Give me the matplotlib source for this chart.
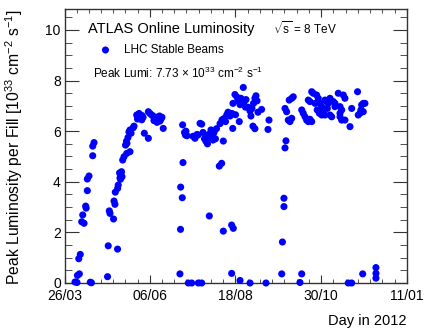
import matplotlib
matplotlib.use("Agg")
import matplotlib.pyplot as plt
import matplotlib.dates as mdates
import numpy as np
from matplotlib.ticker import FixedLocator, MultipleLocator

plt.rcParams['font.family'] = ['Liberation Sans', 'DejaVu Sans']
plt.rcParams['mathtext.fontset'] = 'custom'
plt.rcParams['mathtext.rm'] = 'Liberation Sans'
plt.rcParams['mathtext.it'] = 'Liberation Sans:italic'

# day of year 2012 (1 = 1 Jan) and peak luminosity per fill [1e33 cm^-2 s^-1]
day = [94.5, 96.2, 96.6, 98.2, 97.7, 99.0, 100.2, 101.1, 102.2, 103.6, 104.0,
       105.0, 105.0, 106.4, 109.6, 109.6, 110.7, 107.5, 108.5,
       122.2, 122.8, 130.7, 123.7, 124.3, 127.3, 127.7, 128.5, 128.8, 130.8,
       131.3, 132.4, 132.8, 133.2, 133.6, 134.1, 134.5, 135.1, 136.2, 138.5,
       141.3, 137.5, 138.7, 138.3, 139.6, 140.4, 142.2, 141.3, 144.1, 144.7,
       147.0, 147.7, 148.1, 149.0, 149.8, 151.3, 151.5, 152.4, 153.5, 156.9,
       156.9, 158.3, 159.8, 160.9, 161.7, 162.6, 163.8, 164.3, 165.1, 166.4,
       166.8, 167.7, 168.5, 169.6,
       183.8, 184.3, 184.4, 185.8, 186.4, 186.1, 187.7, 188.5, 189.8, 188.9,
       190.9, 193.8, 199.4, 202.3,
       194.9, 196.6, 198.3, 199.2, 200.9, 202.3,
       203.4, 204.7, 206.0, 207.2, 208.5, 209.4, 210.2, 211.5, 212.8, 214.0,
       207.7, 211.9, 214.9,
       208.8, 217.3, 219.3, 220.7, 220.7, 227.8, 229.2, 227.8,
       217.9, 219.6, 221.3, 222.6, 223.6, 224.7, 226.4, 228.1, 231.1, 228.7,
       228.9, 230.6, 232.3, 233.2, 234.9, 235.7, 237.7, 238.3, 239.6, 240.0,
       234.3,
       241.7, 243.4, 244.2, 245.1, 246.4, 247.6, 248.5, 249.4, 250.2, 245.9,
       247.6, 253.3,
       234.9, 243.4, 257.0, 258.7, 259.6,
       270.4, 271.0, 272.3, 272.3, 273.2, 274.0,
       273.2, 274.6, 276.0, 277.4, 278.9, 276.8, 278.9, 280.2,
       285.9, 287.4,
       287.4, 288.7, 290.2, 291.6, 293.0, 294.4, 295.9, 293.0, 294.4, 295.9,
       297.2, 300.1, 301.5, 302.9, 304.4, 305.8, 307.2, 308.6, 310.0, 311.5,
       312.9, 314.3, 304.4, 307.2, 298.7, 300.6, 302.4, 309.2, 311.5, 315.7,
       318.5, 320.0, 322.8, 324.2, 321.4, 324.2, 320.0, 321.4, 320.0, 315.7,
       329.9, 328.5, 334.9, 335.5, 337.0, 338.4, 339.8, 341.2, 337.8, 339.8,
       327.0, 329.9, 339.3, 350.6, 350.6, 350.6]
lumi = [0.04, 0.02, 0.30, 0.36, 0.96, 1.13, 2.42, 2.69, 2.36, 3.04, 2.96,
        3.65, 4.11, 4.23, 5.03, 5.41, 5.55, 0.03, 0.01,
        0.25, 1.47, 1.34, 2.85, 2.75, 2.53, 3.24, 3.11, 3.59, 3.74,
        3.87, 4.35, 4.15, 4.10, 4.30, 4.40, 4.20, 4.86, 4.99, 5.12,
        5.19, 5.45, 5.52, 5.60, 5.75, 5.97, 5.92, 6.05, 6.14, 6.20,
        6.64, 6.48, 6.58, 6.70, 6.50, 6.45, 6.62, 6.55, 5.92, 5.72,
        6.77, 6.70, 6.64, 6.60, 6.42, 6.50, 6.55, 6.35, 6.44, 6.60,
        6.40, 6.48, 6.55, 6.11,
        0.36, 2.12, 3.79, 3.37, 4.76, 6.25, 5.95, 5.85, 5.82, 6.00,
        0.0, 0.0, 0.0, 0.0,
        5.80, 5.72, 5.87, 5.85, 6.31, 6.28,
        5.95, 5.70, 5.60, 5.50, 5.75, 5.90, 6.05, 5.90, 5.95, 5.70,
        5.85, 5.65, 6.10,
        2.65, 4.62, 4.73, 5.61, 2.05, 2.29, 2.16, 0.38,
        6.30, 6.45, 6.50, 6.38, 6.64, 6.75, 6.60, 6.70, 6.65, 6.11,
        7.10, 7.45, 7.35, 7.20, 7.05, 7.30, 7.73, 7.15, 6.95, 7.25,
        6.38,
        6.95, 6.80, 6.60, 6.90, 7.10, 7.30, 7.40, 7.20, 6.75, 6.20,
        6.10, 6.86,
        0.10, 0.0, 0.0, 6.07, 6.44,
        0.36, 1.62, 3.35, 3.02, 5.34, 5.62,
        6.90, 6.77, 6.44, 6.38, 6.51, 7.23, 7.30, 7.36,
        0.02, 0.36,
        6.84, 6.71, 6.57, 6.44, 6.38, 6.47, 6.38, 7.23, 7.17, 7.56,
        7.50, 7.43, 7.30, 7.10, 6.97, 6.84, 7.23, 7.17, 7.10, 6.64,
        6.57, 7.17, 6.64, 6.64, 7.10, 6.84, 6.71, 6.90, 7.30, 6.97,
        7.50, 6.57, 7.43, 7.30, 6.44, 6.44, 6.97, 6.84, 6.71, 7.10,
        6.90, 6.18, 7.56, 6.64, 6.71, 7.04, 7.10, 7.10, 6.84, 6.77,
        0.0, 0.0, 0.36, 0.61, 0.38, 0.19]

tick_dates = ['2012-03-26', '2012-06-06', '2012-08-18', '2012-10-30', '2013-01-11']
tick_labels = ['26/03', '06/06', '18/08', '30/10', '11/01']

start = np.datetime64('2012-01-01')
xdates = mdates.date2num(start + np.array([np.timedelta64(int(round((d - 1) * 24)), 'h') for d in day]))
xticks = mdates.date2num(np.array(tick_dates, dtype='datetime64[D]'))

fig = plt.figure(figsize=(4.24, 3.29), dpi=100)
ax = fig.add_axes([65/424, 1-283/329, 342/424, 274/329])

pts = ax.scatter(xdates, lumi, s=26, color='#0000ff', edgecolors='none', zorder=3,
                 label='LHC Stable Beams', clip_on=False)

ax.set_xlim(xticks[0], xticks[-1])
ax.set_ylim(0, 10.83)

ax.xaxis.set_major_locator(FixedLocator(xticks))
ax.set_xticklabels(tick_labels)
minor = []
for a, b in zip(xticks[:-1], xticks[1:]):
    minor.extend(np.linspace(a, b, 8)[1:-1])
ax.xaxis.set_minor_locator(FixedLocator(minor))
ax.yaxis.set_major_locator(MultipleLocator(2))
ax.yaxis.set_minor_locator(MultipleLocator(0.5))

ax.tick_params(which='both', direction='in', top=True, right=True, labelsize=10,
               color='#333333')
ax.tick_params(axis='x', which='major', length=6, pad=4.5)
ax.tick_params(axis='x', which='minor', length=3)
ax.tick_params(axis='y', which='major', length=10, pad=3)
ax.tick_params(axis='y', which='minor', length=5)
for sp in ax.spines.values():
    sp.set_linewidth(1.0)
    sp.set_color('#333333')

ax.set_ylabel(r'Peak Luminosity per Fill [10$^{33}$ cm$^{-2}$ s$^{-1}$]', fontsize=11.3,
              loc='top')
ax.yaxis.set_label_coords(-0.117, 0.997)
ax.set_xlabel('Day in 2012', fontsize=10.5, loc='right', labelpad=8)

ax.text(0.067, 0.927, 'ATLAS Online Luminosity', transform=ax.transAxes,
        fontsize=10.5, va='center', ha='left')
ax.text(0.608, 0.927, r'$\sqrt{\mathrm{s}}$ = 8 TeV', transform=ax.transAxes,
        fontsize=8.5, va='center', ha='left')
ax.text(0.082, 0.766, r'Peak Lumi: 7.73 $\times$ 10$^{33}$ cm$^{-2}$ s$^{-1}$',
        transform=ax.transAxes, fontsize=8.5, va='center', ha='left')
ax.legend(handles=[pts], loc='center left', bbox_to_anchor=(0.07, 0.85),
          frameon=False, fontsize=8.5, handletextpad=0.6, borderaxespad=0)

fig.savefig('out.png', dpi=100)
